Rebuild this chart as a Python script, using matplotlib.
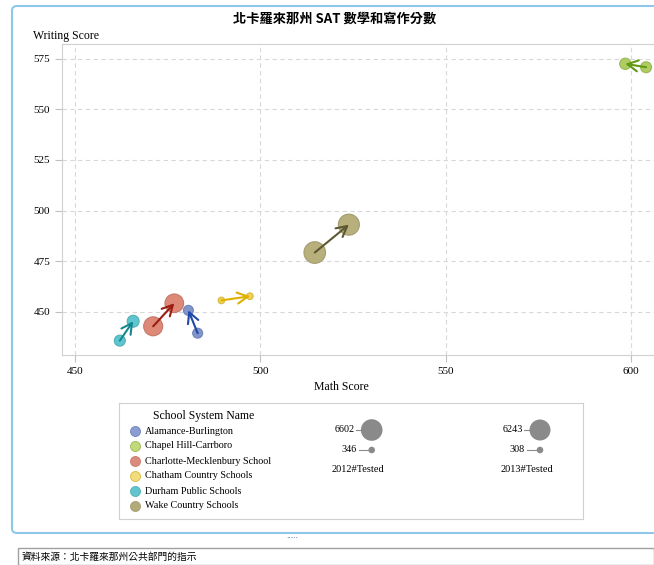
import matplotlib
matplotlib.use("Agg")
import matplotlib.pyplot as plt
import numpy as np
from matplotlib.patches import FancyBboxPatch, Rectangle

# datos
escuelas = ["Alamance-Burlington", "Chapel Hill-Carrboro", "Charlotte-Mecklenbury School",
            "Chatham Country Schools", "Durham Public Schools", "Wake Country Schools"]
math_2012 = [483.1, 604.1, 471.1, 489.5, 462.1, 514.7]
math_2013 = [480.6, 598.5, 476.8, 497.2, 465.7, 523.9]
writing_2012 = [439.3, 570.9, 442.7, 455.5, 435.6, 479.2]
writing_2013 = [450.6, 572.6, 454.1, 457.6, 445.2, 493.0]
tested_2012 = [1400, 1700, 5100, 346, 1700, 6602]
tested_2013 = [1400, 1800, 4900, 308, 2000, 6243]

colores = ["#8095cb", "#afcc62", "#de8878", "#f0d250", "#5ec6ce", "#b8b07c"]
bordes = ["#7283b5", "#9bb657", "#c4786a", "#d6ba46", "#53afb6", "#a39c6d"]
colores_flecha = ["#1f48a8", "#5f9a12", "#9a1e12", "#e0b000", "#158790", "#5c5832"]
colores_leyenda = ["#8c9bd0", "#c2d97a", "#d98b7c", "#f0dc7a", "#62c4cc", "#b3aa7c"]

W, H = 654, 565
serif = "Liberation Serif"
cjk = ["Noto Sans CJK TC", "DejaVu Sans"]


def radio(n, nmax=6602):
    # radio en pixeles
    return max(3.3, 10.8 * np.sqrt(n / nmax))


def area(n):
    return (2 * radio(n) * 0.72) ** 2


fig = plt.figure(figsize=(W / 100, H / 100), dpi=100)

# marco azul
marco = FancyBboxPatch((12 / W, 1 - 533 / H), 660 / W, (533 - 6) / H,
                       boxstyle="round,pad=0,rounding_size=0.008", transform=fig.transFigure,
                       facecolor="none", edgecolor="#8ec8e8", linewidth=1.5, zorder=0)
fig.patches.append(marco)

fig.text(335 / W, 1 - 19 / H, "北卡羅來那州 SAT 數學和寫作分數", family=cjk,
         fontsize=9.5, fontweight="bold", ha="center", va="center")

ax = fig.add_axes([62 / W, 1 - 355 / H, (W - 62) / W + 0.01, (355 - 44) / H])
ax.set_facecolor("none")
ax.set_xlim(446.5, 608)
ax.set_ylim(428.5, 582.4)
ax.set_xticks([450, 500, 550, 600])
ax.set_yticks([450, 475, 500, 525, 550, 575])
ax.grid(True, color="#d8d8d8", linestyle=(0, (4, 3)), linewidth=0.8)
ax.set_axisbelow(True)
for s in ["left", "bottom", "top"]:
    ax.spines[s].set_color("#d0d0d0")
ax.spines["right"].set_visible(False)
ax.tick_params(colors="#c0c0c0", labelcolor="black", length=5, width=0.8)
for lab in ax.get_xticklabels() + ax.get_yticklabels():
    lab.set_family(serif)
    lab.set_fontsize(8)

for i in range(len(escuelas)):
    ax.scatter([math_2012[i], math_2013[i]], [writing_2012[i], writing_2013[i]],
               s=[area(tested_2012[i]), area(tested_2013[i])], color=colores[i],
               edgecolor=bordes[i], linewidth=0.8, zorder=3)
    ax.annotate("", xy=(math_2013[i], writing_2013[i]), xytext=(math_2012[i], writing_2012[i]),
                arrowprops=dict(arrowstyle="->,head_length=0.75,head_width=0.4",
                                color=colores_flecha[i], lw=1.5, shrinkA=0, shrinkB=0),
                zorder=4)

fig.text(33 / W, 1 - 36 / H, "Writing Score", family=serif, fontsize=8.5, ha="left", va="center")
fig.text(341 / W, 1 - 387 / H, "Math Score", family=serif, fontsize=8.5, ha="center", va="center")

# leyenda
lx, ly, lw, lh = 119, 403, 464, 116
lg = fig.add_axes([lx / W, 1 - (ly + lh) / H, lw / W, lh / H])
lg.set_xlim(0, lw)
lg.set_ylim(lh, 0)
lg.set_xticks([])
lg.set_yticks([])
for s in lg.spines.values():
    s.set_color("#d0d0d0")

lg.text(85, 13, "School System Name", family=serif, fontsize=8.5, ha="center", va="center")
for i, nombre in enumerate(escuelas):
    y = 28 + 15 * i
    lg.scatter([16], [y], s=(2 * 5 * 0.72) ** 2, color=colores_leyenda[i],
               edgecolor=bordes[i], linewidth=0.6)
    lg.text(26, y, nombre, family=serif, fontsize=7.3, ha="left", va="center")

grupos = [(tested_2012, "2012#Tested", 252.7, 239), (tested_2013, "2013#Tested", 421, 408)]
for datos, etiqueta, cx, tx in grupos:
    nmax, nmin = max(datos), min(datos)
    rmax = radio(nmax)
    lg.scatter([cx], [27], s=area(nmax), color="#8a8a8a", edgecolor="none")
    lg.plot([cx - rmax - 5, cx - rmax], [27, 27], color="#8a8a8a", lw=0.8)
    lg.text(cx - rmax - 6, 27, str(nmax), family=serif, fontsize=7.3, ha="right", va="center")
    lg.scatter([cx], [47], s=area(nmin), color="#8a8a8a", edgecolor="none")
    lg.plot([cx - 13, cx - 4], [47, 47], color="#8a8a8a", lw=0.8)
    lg.text(cx - 15, 47, str(nmin), family=serif, fontsize=7.3, ha="right", va="center")
    lg.text(tx, 67, etiqueta, family=serif, fontsize=7.5, ha="center", va="center")

fig.text(292 / W, 1 - 539 / H, "•••••", color="#5b7fc0", fontsize=3, ha="center", va="center")

# barra de fuente
fig.patches.append(Rectangle((18 / W, 0), (W - 18) / W, (H - 548) / H, transform=fig.transFigure,
                             facecolor="white", edgecolor="#a0a0a0", linewidth=1.0))
fig.text(22 / W, 1 - 557 / H, "資料來源：北卡羅來那州公共部門的指示", family=cjk,
         fontsize=7, ha="left", va="center")

fig.savefig("out.png", dpi=100)
